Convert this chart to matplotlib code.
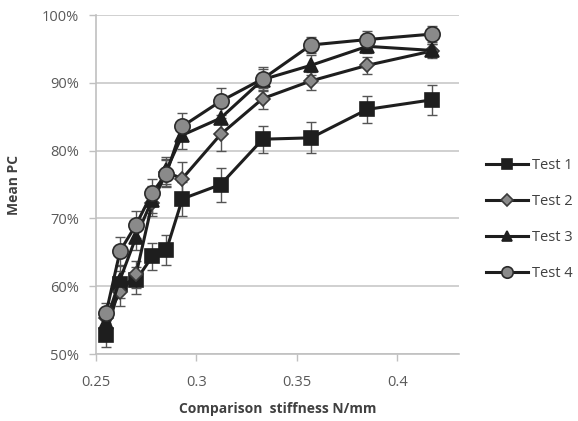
import numpy as np
import matplotlib
matplotlib.use("Agg")
import matplotlib.pyplot as plt
from matplotlib.ticker import FuncFormatter

# stiffness values (N/mm)
stiffness = [0.255, 0.262, 0.27, 0.278, 0.285, 0.293, 0.312, 0.333, 0.357, 0.385, 0.417]

# mean PC (%) per test
test1 = [52.8, 60.3, 60.9, 64.4, 65.3, 72.9, 75.0, 81.7, 81.9, 86.1, 87.5]
test2 = [55.3, 59.1, 61.8, 72.3, 76.8, 75.9, 82.4, 87.7, 90.3, 92.6, 94.7]
test3 = [54.8, 61.0, 67.3, 72.8, 77.1, 82.3, 84.8, 90.5, 92.6, 95.4, 94.8]
test4 = [56.0, 65.2, 69.1, 73.8, 76.6, 83.6, 87.3, 90.6, 95.6, 96.4, 97.2]

# error bars (%)
err1 = [1.8, 2.0, 2.0, 2.0, 2.2, 2.5, 2.5, 2.0, 2.3, 2.0, 2.2]
err2 = [1.5, 2.0, 2.0, 2.0, 2.0, 2.5, 2.5, 1.5, 1.3, 1.3, 1.0]
err3 = [1.5, 2.0, 2.0, 2.0, 2.0, 2.0, 2.0, 1.5, 1.5, 1.0, 1.0]
err4 = [1.5, 2.0, 2.0, 2.0, 2.0, 2.0, 2.0, 1.8, 1.2, 1.2, 1.2]

labels = ["Test 1", "Test 2", "Test 3", "Test 4"]

plt.rcParams['font.family'] = ['Open Sans', 'DejaVu Sans']

fig = plt.figure(figsize=(5.78, 4.21), dpi=100)
ax = fig.add_axes([0.166, 0.159, 0.628, 0.805])

styles = [
    dict(marker="s", ms=10, mfc="#1e1e1e", mec="#1e1e1e"),
    dict(marker="D", ms=7.5, mfc="#8a8a8a", mec="#3a3a3a"),
    dict(marker="^", ms=10, mfc="#1e1e1e", mec="#1e1e1e"),
    dict(marker="o", ms=11, mfc="#8a8a8a", mec="#2a2a2a"),
]
series = [test1, test2, test3, test4]
errs = [err1, err2, err3, err4]

handles = []
for ys, es, st, lab in zip(series, errs, styles, labels):
    ax.errorbar(stiffness, ys, yerr=es, fmt="none", ecolor="#555555",
                elinewidth=1.0, capsize=3.5, capthick=1.0, zorder=2)
    h, = ax.plot(stiffness, ys, color="#1e1e1e", lw=2.2, mew=1.2, zorder=3,
                 label=lab, **st)
    handles.append(h)

ax.set_xlim(0.25, 0.4306)
ax.set_ylim(50, 100)
ax.set_xticks([0.25, 0.3, 0.35, 0.4])
ax.set_xticklabels(["0.25", "0.3", "0.35", "0.4"])
ax.set_yticks(np.arange(50, 101, 10))
ax.yaxis.set_major_formatter(FuncFormatter(lambda v, p: f"{v:.0f}%"))

ax.grid(axis="y", color="#c8c8c8", lw=1.2)
ax.set_axisbelow(True)
for s in ["top", "right"]:
    ax.spines[s].set_visible(False)
for s in ["left", "bottom"]:
    ax.spines[s].set_color("#c0c0c0")
    ax.spines[s].set_linewidth(1.2)
ax.tick_params(axis="both", colors="#c0c0c0", labelcolor="#595959",
               labelsize=10.5, length=5, width=1)
ax.tick_params(axis="x", pad=10)
ax.tick_params(axis="y", pad=7)

ax.set_xlabel("Comparison  stiffness N/mm", fontsize=10, fontweight="bold",
              color="#404040", labelpad=9)
ax.set_ylabel("Mean PC", fontsize=10, fontweight="bold", color="#404040",
              labelpad=15)

fig.legend(handles=handles, loc="center left", bbox_to_anchor=(0.828, 0.478),
           frameon=False, fontsize=10.5, labelcolor="#404040",
           handlelength=2.9, labelspacing=1.45, borderpad=0, handletextpad=0.25,
           markerscale=0.75)

fig.savefig("out.png", dpi=100)
